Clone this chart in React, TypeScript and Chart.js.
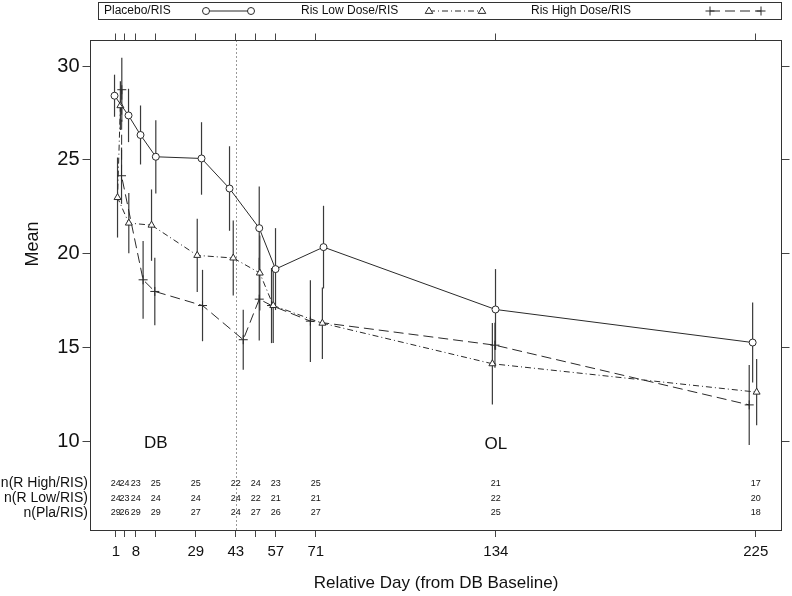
import React, { useEffect, useRef } from "react";
import { Chart, registerables } from "chart.js";

Chart.register(...registerables);

const FONT = '"Liberation Sans", Arial, Helvetica, sans-serif';

// ---- data ----
const seriesNames = ["Placebo/RIS", "Ris Low Dose/RIS", "Ris High Dose/RIS"];

const placeboDays = [0.55, 5.45, 9.65, 15, 31, 40.8, 51.2, 56.9, 73.7, 133.9, 223.9];
const placeboMean = [28.42, 27.37, 26.33, 25.17, 25.08, 23.48, 21.37, 19.19, 20.36, 17.04, 15.28];
const placeboErr = [1.12, 1.42, 1.57, 1.95, 1.93, 2.25, 2.22, 2.18, 2.2, 2.15, 2.13];

const lowDays = [2.6, 1.6, 5.55, 13.5, 29.5, 42.1, 51.4, 56.1, 73.3, 132.8, 225.3];
const lowMean = [27.89, 23.0, 21.64, 21.53, 19.92, 19.78, 18.98, 17.25, 16.31, 14.15, 12.64];
const lowErr = [1.3, 2.13, 1.6, 1.9, 1.95, 2.0, 2.0, 2.0, 1.9, 2.17, 1.76];

const highDays = [3.1, 3.0, 10.55, 14.65, 31.35, 45.6, 51.2, 55.5, 69.1, 133.7, 222.7];
const highMean = [28.74, 24.16, 18.62, 18.0, 17.25, 15.43, 17.59, 17.25, 16.42, 15.14, 11.96];
const highErr = [1.7, 1.5, 2.07, 1.8, 1.9, 1.6, 2.2, 2.0, 2.17, 1.2, 2.13];

const visitDays = [1, 4, 8, 15, 29, 43, 50, 57, 71, 134, 225];
const labeledDays = [1, 8, 29, 43, 57, 71, 134, 225];
const yTickValues = [10, 15, 20, 25, 30];

const nRowLabels = ["n(R High/RIS)", "n(R Low/RIS)", "n(Pla/RIS)"];
const nHigh = [24, 24, 23, 25, 25, 22, 24, 23, 25, 21, 17];
const nLow = [24, 23, 24, 24, 24, 24, 22, 21, 21, 22, 20];
const nPla = [29, 26, 29, 29, 27, 24, 27, 26, 27, 25, 18];

const phaseLabels = ["DB", "OL"];
const dbEndDay = 43;

const xMin = -7.86;
const xMax = 234.0;
const yMin = 5.3;
const yMax = 31.36;

const LINE = "#2a2a2a";
const BAR = "#3a3a3a";

function drawMarker(ctx: CanvasRenderingContext2D, kind: string, x: number, y: number) {
  ctx.save();
  ctx.setLineDash([]);
  ctx.strokeStyle = LINE;
  ctx.lineWidth = 1;
  ctx.beginPath();
  if (kind === "circle") {
    ctx.fillStyle = "#fff";
    ctx.arc(x, y, 3.5, 0, Math.PI * 2);
    ctx.fill();
    ctx.stroke();
  } else if (kind === "triangle") {
    ctx.fillStyle = "#fff";
    const r = 4;
    ctx.moveTo(x, y - r);
    ctx.lineTo(x + r * 0.95, y + r * 0.6);
    ctx.lineTo(x - r * 0.95, y + r * 0.6);
    ctx.closePath();
    ctx.fill();
    ctx.stroke();
  } else {
    const r = 4.5;
    ctx.moveTo(x - r, y);
    ctx.lineTo(x + r, y);
    ctx.moveTo(x, y - r);
    ctx.lineTo(x, y + r);
    ctx.stroke();
  }
  ctx.restore();
}

const customPlugin = {
  id: "customDecor",
  beforeDatasetsDraw(chart: any) {
    const { ctx, chartArea, scales } = chart;
    const xs = scales.x;
    const ys = scales.y;
    ctx.save();
    // dotted separator at end of DB phase
    const px = Math.round(xs.getPixelForValue(dbEndDay)) + 0.5;
    ctx.strokeStyle = "#333";
    ctx.lineWidth = 1;
    ctx.setLineDash([1, 3]);
    ctx.beginPath();
    ctx.moveTo(px, chartArea.top);
    ctx.lineTo(px, chartArea.bottom);
    ctx.stroke();
    ctx.setLineDash([]);
    // error bars
    const groups: [number[], number[], number[]][] = [
      [placeboDays, placeboMean, placeboErr],
      [lowDays, lowMean, lowErr],
      [highDays, highMean, highErr],
    ];
    ctx.strokeStyle = BAR;
    ctx.lineWidth = 1.2;
    groups.forEach(([d, m, e]) => {
      d.forEach((day, i) => {
        const x = xs.getPixelForValue(day);
        const y1 = ys.getPixelForValue(m[i] - e[i]);
        const y2 = ys.getPixelForValue(m[i] + e[i]);
        ctx.beginPath();
        ctx.moveTo(x, y1);
        ctx.lineTo(x, y2);
        ctx.stroke();
      });
    });
    ctx.restore();
  },
  afterDraw(chart: any) {
    const { ctx, chartArea, scales } = chart;
    const xs = scales.x;
    const ys = scales.y;
    ctx.save();
    ctx.fillStyle = "#111";

    // legend box
    ctx.strokeStyle = "#333";
    ctx.lineWidth = 1;
    ctx.strokeRect(98.5, 2.5, 683, 17);
    ctx.font = `12px ${FONT}`;
    ctx.textAlign = "left";
    ctx.textBaseline = "middle";
    const ly = 11;
    const textX = [104, 301, 531];
    const sampleX: [number, number][] = [[206, 251], [429, 482], [710, 761]];
    const kinds = ["circle", "triangle", "plus"];
    const dashes = [[], [6, 3, 1, 3], [10, 5]];
    seriesNames.forEach((name, i) => {
      ctx.fillText(name, textX[i], ly);
      const [a, b] = sampleX[i];
      ctx.save();
      ctx.strokeStyle = LINE;
      ctx.setLineDash(dashes[i]);
      ctx.beginPath();
      ctx.moveTo(a, ly);
      ctx.lineTo(b, ly);
      ctx.stroke();
      ctx.restore();
      drawMarker(ctx, kinds[i], a, ly);
      drawMarker(ctx, kinds[i], b, ly);
    });

    // n table
    const rowY = [483.5, 498.5, 513];
    const rows = [nHigh, nLow, nPla];
    ctx.font = `14px ${FONT}`;
    ctx.textAlign = "right";
    nRowLabels.forEach((lab, r) => ctx.fillText(lab, 88, rowY[r]));
    ctx.font = `9px ${FONT}`;
    ctx.textAlign = "center";
    rows.forEach((vals, r) => {
      vals.forEach((v, i) => {
        ctx.fillText(String(v), xs.getPixelForValue(visitDays[i]), rowY[r]);
      });
    });

    // phase labels
    ctx.font = `17px ${FONT}`;
    ctx.fillText(phaseLabels[0], xs.getPixelForValue(15), ys.getPixelForValue(10) + 1.5);
    ctx.fillText(phaseLabels[1], xs.getPixelForValue(134), ys.getPixelForValue(10) + 3);

    // y-axis title
    ctx.save();
    ctx.translate(33, 244);
    ctx.rotate(-Math.PI / 2);
    ctx.font = `18px ${FONT}`;
    ctx.textAlign = "center";
    ctx.fillText("Mean", 0, 0);
    ctx.restore();

    ctx.restore();
  },
};

function makeData(days: number[], mean: number[]) {
  return days.map((d, i) => ({ x: d, y: mean[i] }));
}

export default function App() {
  const ref = useRef<HTMLCanvasElement>(null);

  useEffect(() => {
    if (!ref.current) return;
    const gridOpts = { drawOnChartArea: false, drawTicks: true, color: "#444", lineWidth: 1 };
    const chart = new Chart(ref.current, {
      type: "line",
      data: {
        datasets: [
          {
            label: seriesNames[0],
            data: makeData(placeboDays, placeboMean),
            borderColor: LINE,
            borderWidth: 1,
            pointStyle: "circle",
            pointRadius: 3.5,
            pointBackgroundColor: "#fff",
            pointBorderColor: LINE,
            pointBorderWidth: 1,
            tension: 0,
            xAxisID: "x",
            yAxisID: "y",
          },
          {
            label: seriesNames[1],
            data: makeData(lowDays, lowMean),
            borderColor: LINE,
            borderWidth: 1,
            borderDash: [6, 3, 1, 3],
            pointStyle: "triangle",
            pointRadius: 4,
            pointBackgroundColor: "#fff",
            pointBorderColor: LINE,
            pointBorderWidth: 1,
            tension: 0,
            xAxisID: "x",
            yAxisID: "y",
          },
          {
            label: seriesNames[2],
            data: makeData(highDays, highMean),
            borderColor: LINE,
            borderWidth: 1,
            borderDash: [10, 5],
            pointStyle: "cross",
            pointRadius: 4.5,
            pointBorderColor: LINE,
            pointBorderWidth: 1,
            tension: 0,
            xAxisID: "x",
            yAxisID: "y",
          },
        ],
      },
      options: {
        responsive: false,
        animation: false,
        devicePixelRatio: 1,
        layout: { padding: 0 },
        plugins: {
          legend: { display: false },
          tooltip: { enabled: false },
          title: { display: false },
        },
        scales: {
          x: {
            type: "linear",
            position: "bottom",
            min: xMin,
            max: xMax,
            afterBuildTicks: (s: any) => {
              s.ticks = visitDays.map((v) => ({ value: v }));
            },
            afterFit: (s: any) => {
              s.height = 66;
            },
            ticks: {
              autoSkip: false,
              maxRotation: 0,
              padding: 6,
              color: "#111",
              font: { family: FONT, size: 15 },
              callback: (v: any) => (labeledDays.includes(Number(v)) ? String(v) : ""),
            },
            grid: { ...gridOpts, tickLength: 7 },
            border: { display: true, color: "#333", width: 1 },
            title: {
              display: true,
              text: "Relative Day (from DB Baseline)",
              color: "#111",
              font: { family: FONT, size: 17 },
              padding: { top: 0, bottom: 2 },
            },
          },
          x2: {
            type: "linear",
            position: "top",
            min: xMin,
            max: xMax,
            afterBuildTicks: (s: any) => {
              s.ticks = visitDays.map((v) => ({ value: v }));
            },
            afterFit: (s: any) => {
              s.height = 40.5;
            },
            ticks: { display: false, autoSkip: false },
            grid: { ...gridOpts, tickLength: 7 },
            border: { display: true, color: "#333", width: 1 },
          },
          y: {
            type: "linear",
            position: "left",
            min: yMin,
            max: yMax,
            afterBuildTicks: (s: any) => {
              s.ticks = yTickValues.map((v) => ({ value: v }));
            },
            afterFit: (s: any) => {
              s.width = 90.5;
            },
            ticks: {
              padding: 3,
              color: "#111",
              font: { family: FONT, size: 20 },
            },
            grid: { ...gridOpts, tickLength: 8 },
            border: { display: true, color: "#333", width: 1 },
          },
          y2: {
            type: "linear",
            position: "right",
            min: yMin,
            max: yMax,
            afterBuildTicks: (s: any) => {
              s.ticks = yTickValues.map((v) => ({ value: v }));
            },
            afterFit: (s: any) => {
              s.width = 10.5;
            },
            ticks: { display: false },
            grid: { ...gridOpts, tickLength: 8 },
            border: { display: true, color: "#333", width: 1 },
          },
        },
      },
      plugins: [customPlugin],
    } as any);
    return () => chart.destroy();
  }, []);

  return (
    <div style={{ position: "absolute", left: 0, top: 0, width: 792, height: 596, background: "#fff" }}>
      <canvas ref={ref} width={792} height={596} style={{ display: "block", width: 792, height: 596 }} />
    </div>
  );
}
